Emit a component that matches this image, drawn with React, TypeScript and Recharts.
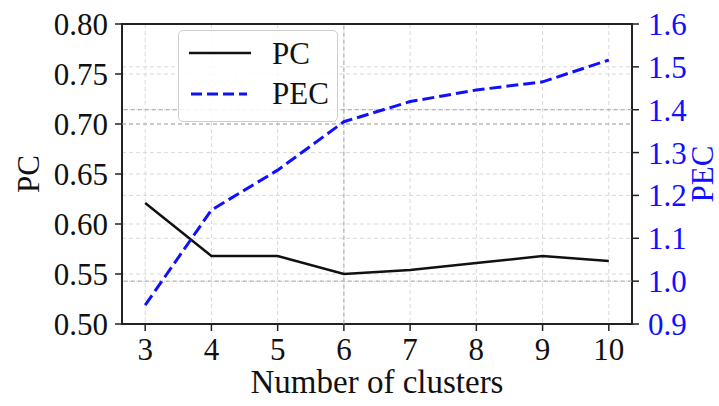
import { LineChart, Line, CartesianGrid, XAxis, YAxis, ReferenceArea, ReferenceLine, Label } from 'recharts'

const clusters = [3, 4, 5, 6, 7, 8, 9, 10]
const pcValues = [0.621, 0.568, 0.568, 0.55, 0.554, 0.561, 0.568, 0.563]
const pecValues = [0.944, 1.166, 1.259, 1.372, 1.419, 1.446, 1.465, 1.516]

const pcTicks = [0.5, 0.55, 0.6, 0.65, 0.7, 0.75, 0.8]
const pecTicks = [0.9, 1.0, 1.1, 1.2, 1.3, 1.4, 1.5, 1.6]

const FONT = "'Liberation Serif', 'Times New Roman', serif"
const BLUE = '#1010ff'

// boxed legend in the upper left of the plot
function LegendBox() {
  return (
    <div
      style={{
        position: 'absolute',
        left: 178,
        top: 30,
        width: 158,
        height: 90,
        border: '1px solid #cfcfcf',
        borderRadius: 5,
        background: 'rgba(255,255,255,0.85)',
      }}
    >
      <svg width={158} height={90} style={{ position: 'absolute', left: 0, top: 0 }}>
        <line x1={10} x2={72} y1={22} y2={22} stroke="#111" strokeWidth={2.5} />
        <line x1={12} x2={68} y1={63} y2={63} stroke={BLUE} strokeWidth={3} strokeDasharray="11 5" />
        <text x={93} y={33} fontSize={31} fontFamily={FONT} fill="#111">PC</text>
        <text x={93} y={73} fontSize={31} fontFamily={FONT} fill="#111">PEC</text>
      </svg>
    </div>
  )
}

// rotated axis title centred on the plot height
const sideTitle = (text: string, x: number, color: string) => (props: any) => {
  const vb = props.viewBox || {}
  const cy = (vb.y ?? 24) + (vb.height ?? 300) / 2
  return (
    <text
      x={x}
      y={cy}
      transform={`rotate(-90 ${x} ${cy})`}
      textAnchor="middle"
      dominantBaseline="central"
      fontSize={31}
      fontFamily={FONT}
      fill={color}
    >
      {text}
    </text>
  )
}

export default function App() {
  const rows = clusters.map((k, i) => ({ k, pc: pcValues[i], pec: pecValues[i] }))

  return (
    <div style={{ position: 'absolute', left: 0, top: 0, width: 719, height: 406, background: '#fff' }}>
      <LineChart
        width={719}
        height={406}
        data={rows}
        margin={{ top: 24, right: 27, bottom: 22, left: 52 }}
      >
        <CartesianGrid yAxisId="left" vertical={true} stroke="#d9d9d9" strokeDasharray="4 3" />
        <CartesianGrid yAxisId="right" vertical={false} stroke="#d9d9d9" strokeDasharray="4 3" />
        <ReferenceLine yAxisId="left" x={6} stroke="#a8a8a8" strokeDasharray="4 3" />
        <ReferenceLine yAxisId="left" y={0.7} stroke="#a8a8a8" strokeDasharray="4 3" />
        <ReferenceLine yAxisId="right" y={1.4} stroke="#a8a8a8" strokeDasharray="4 3" />
        <ReferenceLine yAxisId="right" y={1.0} stroke="#a8a8a8" strokeDasharray="4 3" />
        <XAxis
          dataKey="k"
          type="number"
          domain={[2.65, 10.35]}
          ticks={clusters}
          interval={0}
          allowDataOverflow
          height={60}
          axisLine={false}
          tickSize={7}
          tickMargin={7}
          tickLine={{ stroke: '#222', strokeWidth: 1.5 }}
          tick={{ fill: '#111', fontSize: 31, fontFamily: FONT }}
        >
          <Label value="Number of clusters" position="insideBottom" offset={-9} fill="#111" fontSize={33} fontFamily={FONT} />
        </XAxis>
        <YAxis
          yAxisId="left"
          domain={[0.5, 0.8]}
          ticks={pcTicks}
          interval={0}
          allowDataOverflow
          width={70}
          axisLine={false}
          tickSize={7}
          tickMargin={7}
          tickFormatter={(v: number) => v.toFixed(2)}
          tickLine={{ stroke: '#222', strokeWidth: 1.5 }}
          tick={{ fill: '#111', fontSize: 31, fontFamily: FONT }}
        >
          <Label content={sideTitle('PC', 28, '#111')} />
        </YAxis>
        <YAxis
          yAxisId="right"
          orientation="right"
          domain={[0.9, 1.6]}
          ticks={pecTicks}
          interval={0}
          allowDataOverflow
          width={60}
          axisLine={false}
          tickSize={7}
          tickMargin={9}
          tickFormatter={(v: number) => v.toFixed(1)}
          tickLine={{ stroke: '#222', strokeWidth: 1.5 }}
          tick={{ fill: BLUE, fontSize: 31, fontFamily: FONT }}
        >
          <Label content={sideTitle('PEC', 702, BLUE)} />
        </YAxis>
        <Line
          yAxisId="left"
          type="linear"
          dataKey="pc"
          stroke="#111"
          strokeWidth={2.5}
          dot={false}
          isAnimationActive={false}
        />
        <Line
          yAxisId="right"
          type="linear"
          dataKey="pec"
          stroke={BLUE}
          strokeWidth={3}
          strokeDasharray="12 5"
          dot={false}
          isAnimationActive={false}
        />
        {/* frame around the plot area */}
        <ReferenceArea
          yAxisId="left"
          x1={2.65}
          x2={10.35}
          y1={0.5}
          y2={0.8}
          fill="none"
          fillOpacity={0}
          stroke="#222"
          strokeWidth={2}
          ifOverflow="visible"
        />
      </LineChart>
      <LegendBox />
    </div>
  )
}
